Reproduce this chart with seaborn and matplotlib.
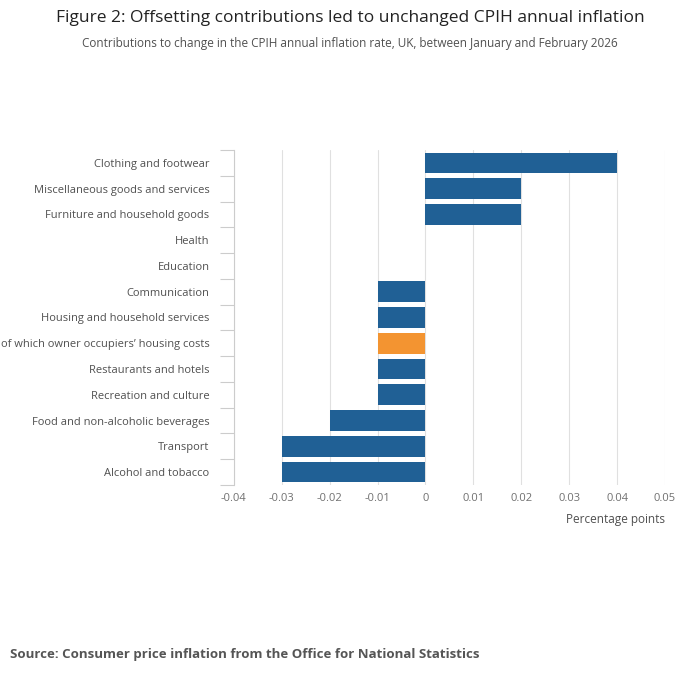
import numpy as np
import pandas as pd
import matplotlib as mpl
mpl.use('Agg')
import matplotlib.pyplot as plt
import seaborn as sb

sb.set_style("white")
plt.rcParams['font.family'] = ['Open Sans', 'DejaVu Sans']

categories = ["Clothing and footwear", "Miscellaneous goods and services",
              "Furniture and household goods", "Health", "Education",
              "Communication", "Housing and household services",
              "of which owner occupiers\u2019 housing costs",
              "Restaurants and hotels", "Recreation and culture",
              "Food and non-alcoholic beverages", "Transport",
              "Alcohol and tobacco"]
values = [0.04, 0.02, 0.02, 0, 0, -0.01, -0.01, -0.01, -0.01, -0.01, -0.02, -0.03, -0.03]
group = ["main"] * 7 + ["sub"] + ["main"] * 5
xticks = [-0.04, -0.03, -0.02, -0.01, 0, 0.01, 0.02, 0.03, 0.04, 0.05]
xticklabels = ["-0.04", "-0.03", "-0.02", "-0.01", "0", "0.01", "0.02", "0.03", "0.04", "0.05"]

df = pd.DataFrame({"cat": categories, "val": values, "grp": group})

fig = plt.figure(figsize=(7, 6.82), dpi=100)
ax = fig.add_axes([0.334, 0.289, 0.616, 0.491])
sb.barplot(data=df, x="val", y="cat", hue="grp", orient="h", dodge=False,
           palette={"main": "#206095", "sub": "#f39431"}, width=0.8,
           saturation=1, linewidth=0, legend=False, ax=ax, zorder=3)
ax.set_xlim(-0.04, 0.05)
ax.set_ylim(len(categories) - 0.5, -0.5)
ax.set_xticks(xticks)
ax.set_xticklabels(xticklabels)
ax.grid(axis="x", color="#e0e0e0", lw=0.8, zorder=0)
for s in ["top", "right", "bottom"]:
    ax.spines[s].set_visible(False)
ax.spines["left"].set_color("#cccccc")
ax.tick_params(axis="x", length=0, labelsize=8, colors="#707070", pad=6)
ax.tick_params(axis="y", which="major", left=False, labelsize=8, colors="#505050", pad=14)
ax.set_yticks(np.arange(-0.5, len(categories), 1), minor=True)
ax.tick_params(axis="y", which="minor", left=True, length=10, width=0.8, color="#cccccc", direction="out")
ax.set_xlabel("Percentage points", fontsize=8.5, color="#505050", loc="right", labelpad=6)
ax.set_ylabel("")

fig.text(0.5, 0.973, "Figure 2: Offsetting contributions led to unchanged CPIH annual inflation",
         ha="center", va="center", fontsize=12.5, color="#222222")
fig.text(0.5, 0.936, "Contributions to change in the CPIH annual inflation rate, UK, between January and February 2026",
         ha="center", va="center", fontsize=8.5, color="#505050")
fig.text(0.014, 0.04, "Source: Consumer price inflation from the Office for National Statistics",
         ha="left", va="center", fontsize=9.5, color="#555555", fontweight="bold")

fig.savefig("out.png", dpi=100)
